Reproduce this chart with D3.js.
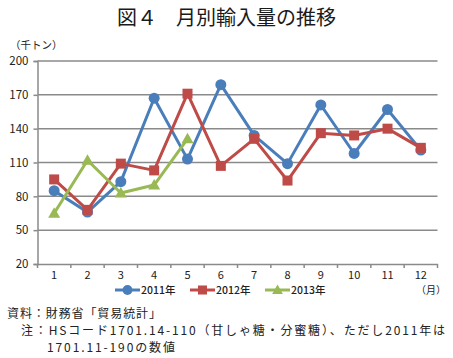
<!DOCTYPE html>
<html><head><meta charset="utf-8">
<script src="https://cdn.jsdelivr.net/npm/d3@7"></script>
<style>
body{margin:0;background:#fff;}
text{font-family:"Noto Sans CJK JP","Noto Sans",sans-serif;}
</style></head>
<body><svg id="c" width="453" height="358"></svg>
<script>
const months = ["1","2","3","4","5","6","7","8","9","10","11","12"];
const yTicks = [20,50,80,110,140,170,200];
const series2011 = [85,66,93,167,113,179,134,109,161,118,157,121];
const series2012 = [95,68,109,103,171,107,131,94,136,134,140,123];
const series2013 = [65,112,83,90,131];
const seriesNames = ["2011年","2012年","2013年"];

const svg = d3.select("#c");
const L=37.5, R=437.5, T=61, B=264;
const x = d3.scaleBand().domain(months).range([L,R]);
const y = d3.scaleLinear().domain([20,200]).range([B,T]);

svg.append("text").attr("x",117).attr("y",25)
  .attr("font-size",20).attr("font-weight",400).attr("fill","#1a1a1a").text("図４");
svg.append("text").attr("x",176).attr("y",25).attr("textLength",160).attr("lengthAdjust","spacing")
  .attr("font-size",20).attr("font-weight",400).attr("fill","#1a1a1a").text("月別輸入量の推移");
svg.append("text").attr("x",10).attr("y",49).attr("font-size",10.5).attr("fill","#222").text("（千トン）");

// gridlines
svg.append("g").selectAll("line").data(yTicks.filter(d=>d>20)).join("line")
  .attr("x1",L).attr("x2",R).attr("y1",d=>y(d)).attr("y2",d=>y(d))
  .attr("stroke","#8a8a8a").attr("stroke-width",1.5);

// y axis
const ya = svg.append("g").attr("transform",`translate(${L},0)`)
  .call(d3.axisLeft(y).tickValues(yTicks).tickSize(4).tickPadding(5));
ya.select(".domain").attr("stroke","#8a8a8a").attr("stroke-width",1.5);
ya.selectAll(".tick line").attr("stroke","#8a8a8a").attr("stroke-width",1.5);
ya.selectAll("text").attr("font-size",11.5).attr("fill","#222").attr("font-family","'Noto Sans',sans-serif");

// x axis
const xa = svg.append("g").attr("transform",`translate(0,${B})`)
  .call(d3.axisBottom(x).tickSize(0).tickPadding(7));
xa.select(".domain").attr("stroke","#8a8a8a").attr("stroke-width",1.5);
xa.selectAll("text").attr("font-size",11).attr("fill","#222").attr("font-family","'Noto Sans',sans-serif");
svg.append("g").selectAll("line").data(months.concat(["end"])).join("line")
  .attr("x1",(d,i)=>L+i*x.bandwidth()).attr("x2",(d,i)=>L+i*x.bandwidth())
  .attr("y1",B).attr("y2",B+4).attr("stroke","#8a8a8a").attr("stroke-width",1.5);
svg.append("text").attr("x",416).attr("y",293.5).attr("font-size",10).attr("fill","#222").text("（月）");

const colors = ["#4a7ebb","#be4b48","#98b954"];
const data = [series2011,series2012,series2013];
const cx = i=>x(months[i])+x.bandwidth()/2;
const line = d3.line().x((d,i)=>cx(i)).y(d=>y(d));

function marker(g,type,px,py,c,s){
  if(type===0) g.append("circle").attr("cx",px).attr("cy",py).attr("r",s*0.55).attr("fill",c);
  else if(type===1) g.append("rect").attr("x",px-s/2).attr("y",py-s/2).attr("width",s).attr("height",s).attr("fill",c);
  else g.append("path").attr("d",`M${px},${py-s*0.6}L${px+s*0.6},${py+s*0.45}L${px-s*0.6},${py+s*0.45}Z`).attr("fill",c);
}

data.forEach((ser,k)=>{
  const g = svg.append("g");
  g.append("path").datum(ser).attr("d",line).attr("fill","none")
    .attr("stroke",colors[k]).attr("stroke-width",3).attr("stroke-linejoin","round");
  ser.forEach((v,i)=>marker(g,k,cx(i),y(v),colors[k],10));
});

// legend
const lx=[115,190,265];
seriesNames.forEach((n,k)=>{
  const g=svg.append("g");
  g.append("line").attr("x1",lx[k]).attr("x2",lx[k]+25).attr("y1",290).attr("y2",290)
    .attr("stroke",colors[k]).attr("stroke-width",3);
  marker(g,k,lx[k]+12.5,290,colors[k],9);
  g.append("text").attr("x",lx[k]+26).attr("y",294).attr("font-size",10.5).attr("font-weight",500).attr("fill","#222").text(n);
});

// notes
svg.append("text").attr("x",7).attr("y",318).attr("font-size",12).attr("textLength",154).attr("lengthAdjust","spacing").attr("fill","#222").text("資料：財務省「貿易統計」");
svg.append("text").attr("x",21).attr("y",335).attr("font-size",12).attr("textLength",424).attr("lengthAdjust","spacing").attr("fill","#222").text("注：HSコード1701.14-110（甘しゃ糖・分蜜糖）、ただし2011年は");
svg.append("text").attr("x",47).attr("y",352).attr("font-size",12).attr("textLength",128).attr("lengthAdjust","spacing").attr("fill","#222").text("1701.11-190の数値");
</script></body></html>
